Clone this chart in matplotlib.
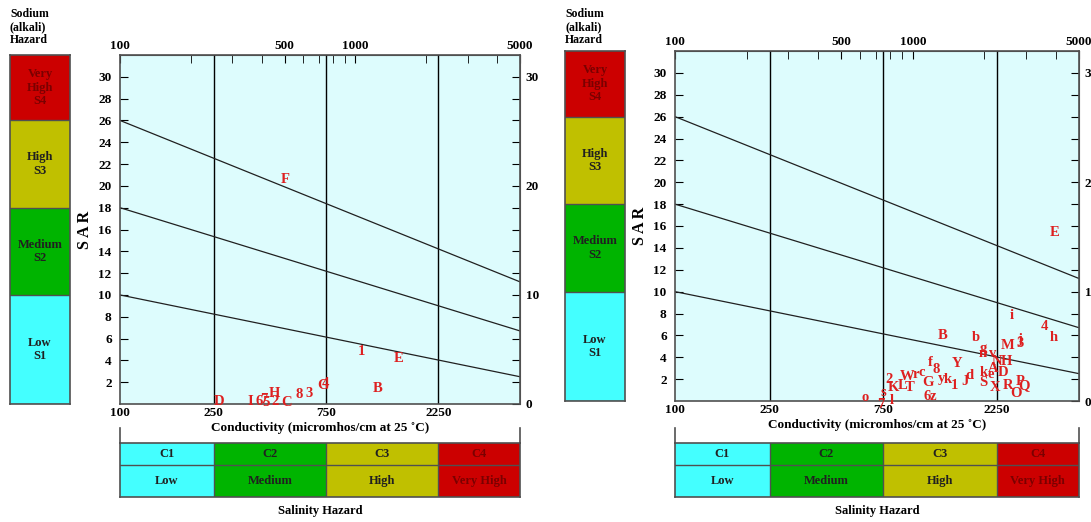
import numpy as np
import matplotlib.pyplot as plt
from matplotlib.ticker import NullLocator, FixedLocator, NullFormatter

plt.rcParams['font.family'] = 'Liberation Serif'
plt.rcParams['font.weight'] = 'bold'
plt.rcParams['axes.labelweight'] = 'bold'

# chart values
class_edges = [100, 250, 750, 2250, 5000]
bottom_ticks = [100, 250, 750, 2250]
top_ticks = [100, 500, 1000, 5000]
top_minor = [200, 300, 400, 600, 700, 800, 900, 2000, 3000, 4000]
line_start = [10, 18, 26]      # SAR at EC = 100
line_end = [2.5, 6.7, 11.2]    # SAR at EC = 5000
sodium_edges = [0, 10, 18, 26, 32]
sodium_names = ['Low\nS1', 'Medium\nS2', 'High\nS3', 'Very\nHigh\nS4']
salinity_codes = ['C1', 'C2', 'C3', 'C4']
salinity_names = ['Low', 'Medium', 'High', 'Very High']

left_labels = ['F', '1', 'E', 'B', 'G', '4', '8', '3', 'H', 'D', 'I', '6', '7', '5', '2', 'C']
left_ec = [502, 1056, 1531, 1247, 728, 745, 576, 635, 455, 263, 357, 389, 407, 417, 455, 512]
left_sar = [20.6, 4.8, 4.2, 1.4, 1.7, 1.9, 0.9, 1.0, 1.0, 0.2, 0.2, 0.2, 0.45, 0.1, 0.2, 0.1]

right_labels = ['E', 'i', '4', 'h', 'j', '3', 'M', 'B', 'b', 'g', 'n', 'v', 'N', 'H', 'A',
                'k', 'e', 'D', 'S', 'X', 'R', 'P', 'Q', 'O', 'Y', 'f', '8', 'c', 'r', 'W',
                'L', 'T', 'G', 'y', 'k', '1', 'J', 'd', '6', 'z', 'K', '2', 's', 'o', '7', 'l']
right_ec = [3963, 2614, 3565, 3926, 2825, 2825, 2515, 1340, 1845, 1974, 1974, 2174, 2261, 2466, 2174,
            1993, 2133, 2395, 1974, 2218, 2515, 2825, 2937, 2717, 1535, 1182, 1253, 1093, 1030, 946,
            910, 973, 1159, 1315, 1406, 1490, 1659, 1723, 1148, 1220, 826, 794, 750, 630, 735, 818]
right_sar = [15.4, 7.8, 6.8, 5.8, 5.6, 5.3, 5.1, 6.0, 5.8, 4.8, 4.3, 4.3, 3.6, 3.6, 3.0,
             2.6, 2.4, 2.6, 1.65, 1.2, 1.4, 1.75, 1.45, 0.65, 3.4, 3.5, 2.9, 2.6, 2.4, 2.2,
             1.4, 1.2, 1.65, 2.1, 2.0, 1.45, 1.75, 2.3, 0.45, 0.45, 1.2, 2.0, 0.8, 0.3, -0.35, 0.0]

W, H = 1091, 522
bg = '#ddfcfd'
band_colors = ['#44ffff', '#00b400', '#c0c000', '#cc0000']
point_red = '#dd2020'
edge = '#505050'

fig = plt.figure(figsize=(W / 100, H / 100), dpi=100)


def box(x, y, w, h):
    return [x / W, 1 - (y + h) / H, w / W, h / H]


def draw_panel(px, top, pw, bottom, bar_x, labels, ec, sar):
    ax = fig.add_axes(box(px, top, pw, bottom - top))
    ax.set_facecolor(bg)
    ax.set_xscale('log')
    ax.set_xlim(100, 5000)
    ax.set_ylim(0, 32)
    ax.xaxis.set_minor_locator(NullLocator())
    ax.set_xticks(bottom_ticks)
    ax.set_xticklabels([str(t) for t in bottom_ticks])
    ax.tick_params(axis='x', length=0, labelsize=9.5, pad=2)
    ax.set_yticks(np.arange(2, 31, 2))
    ax.tick_params(axis='y', direction='in', length=6, labelsize=9.5, pad=6)
    for s in ax.spines.values():
        s.set_color(edge)
        s.set_linewidth(1.2)
    for v in class_edges[1:-1]:
        ax.axvline(v, color='black', lw=1)
    for s0, s1 in zip(line_start, line_end):
        ax.plot([100, 5000], [s0, s1], color='#202020', lw=0.9)
    for lab, e, s in zip(labels, ec, sar):
        ax.text(e, s, lab, color=point_red, ha='center', va='center', fontsize=10.5, clip_on=False)
    ax.set_ylabel('S A R', fontsize=11.5, labelpad=4)
    ax.set_xlabel('Conductivity (micromhos/cm at 25 \u02daC)', fontsize=9.5, labelpad=2)

    sec = ax.secondary_xaxis('top')
    sec.set_xticks(top_ticks)
    sec.set_xticklabels([str(t) for t in top_ticks])
    sec.xaxis.set_minor_locator(FixedLocator(top_minor))
    sec.xaxis.set_minor_formatter(NullFormatter())
    sec.tick_params(which='both', direction='in', length=6, labelsize=9.5, pad=2)
    sec.spines['top'].set_color(edge)

    rt = ax.secondary_yaxis('right')
    rt.set_yticks(np.arange(0, 31, 2))
    rt.set_yticklabels([str(v) if v % 10 == 0 else '' for v in range(0, 31, 2)])
    rt.tick_params(direction='in', length=6, labelsize=9.5, pad=4)
    rt.spines['right'].set_color(edge)

    # sodium hazard bar
    sb = fig.add_axes(box(bar_x, top, 60, bottom - top))
    sb.set_xlim(0, 1)
    sb.set_ylim(0, 32)
    sb.set_xticks([])
    sb.set_yticks([])
    for i in range(4):
        sb.axhspan(sodium_edges[i], sodium_edges[i + 1], color=band_colors[i], lw=0)
        sb.axhline(sodium_edges[i], color=edge, lw=1)
        tc = '#7a0000' if i == 3 else '#202020'
        sb.text(0.5, (sodium_edges[i] + sodium_edges[i + 1]) / 2, sodium_names[i],
                ha='center', va='center', fontsize=9, color=tc, linespacing=1.15)
    for s in sb.spines.values():
        s.set_color(edge)
        s.set_linewidth(1.2)
    fig.text((bar_x) / W, 1 - 8 / H, 'Sodium\n(alkali)\nHazard', ha='left', va='top',
             fontsize=8.5, linespacing=1.1)

    # salinity hazard bar
    cb = fig.add_axes(box(px, 443, pw, 54))
    cb.set_xscale('log')
    cb.set_xlim(100, 5000)
    cb.set_ylim(0, 1)
    cb.xaxis.set_minor_locator(NullLocator())
    cb.set_xticks([])
    cb.set_yticks([])
    for i in range(4):
        a, b = class_edges[i], class_edges[i + 1]
        cb.axvspan(a, b, color=band_colors[i], lw=0)
        if i > 0:
            cb.axvline(a, color=edge, lw=1)
        mid = np.sqrt(a * b)
        tc = '#7a0000' if i == 3 else '#202020'
        cb.text(mid, 0.8, salinity_codes[i], ha='center', va='center', fontsize=9, color=tc)
        cb.text(mid, 0.3, salinity_names[i], ha='center', va='center', fontsize=9, color=tc)
    cb.axhline(0.59, color=edge, lw=1)
    for s in cb.spines.values():
        s.set_color(edge)
        s.set_linewidth(1.2)
    for xx in [0, 1]:
        cb.plot([xx, xx], [1, 1.27], transform=cb.transAxes, color=edge, lw=1.2, clip_on=False)
    fig.text((px + pw / 2) / W, 1 - 511 / H, 'Salinity Hazard', ha='center', va='center', fontsize=9)


draw_panel(120, 55, 400, 404, 10, left_labels, left_ec, left_sar)
draw_panel(675, 51, 404, 401, 565, right_labels, right_ec, right_sar)

fig.savefig('out.png', dpi=100)
